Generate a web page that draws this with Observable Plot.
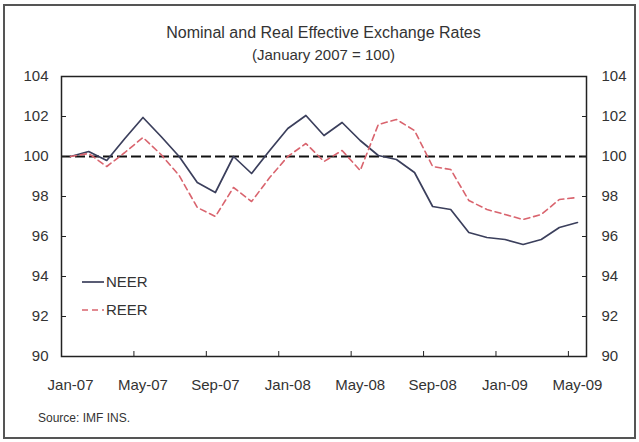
<!DOCTYPE html>
<html>
<head>
<meta charset="utf-8">
<script src="https://cdn.jsdelivr.net/npm/d3@7"></script>
<script src="https://cdn.jsdelivr.net/npm/@observablehq/plot@0.6"></script>
<style>
  body { margin: 0; background: #fff; font-family: "Liberation Sans", Arial, sans-serif; }
  #wrap { position: relative; width: 639px; height: 442px; overflow: hidden; background: #fff; }
  #border { position: absolute; left: 3px; top: 4px; width: 629px; height: 431px; border: 2px solid #555; pointer-events: none; }
  #head { position: relative; height: 64px; }
  #title { position: absolute; left: 61px; width: 525px; top: 23px; text-align: center; font-size: 16px; line-height: 20px; color: #333; }
  #subtitle { position: absolute; left: 61px; width: 525px; top: 45px; text-align: center; font-size: 15px; line-height: 20px; color: #333; }
  #chart svg { display: block; }
  #source { position: absolute; left: 38px; top: 411px; font-size: 12px; color: #333; }
  #legend { position: absolute; left: 80px; top: 270px; }
  #legend svg { display: block; overflow: visible; }
</style>
</head>
<body>
<div id="wrap">
  <div id="head">
    <div id="title">Nominal and Real Effective Exchange Rates</div>
    <div id="subtitle">(January 2007 = 100)</div>
  </div>
  <div id="chart"></div>
  <div id="legend"></div>
  <div id="source">Source: IMF INS.</div>
  <div id="border"></div>
</div>
<script>
// Monthly categories, Jan-07 .. May-09
const months = ["Jan-07","Feb-07","Mar-07","Apr-07","May-07","Jun-07","Jul-07","Aug-07","Sep-07","Oct-07","Nov-07","Dec-07",
                "Jan-08","Feb-08","Mar-08","Apr-08","May-08","Jun-08","Jul-08","Aug-08","Sep-08","Oct-08","Nov-08","Dec-08",
                "Jan-09","Feb-09","Mar-09","Apr-09","May-09"];
const neer = [100.0, 100.25, 99.8, 100.9, 101.95, 101.0, 100.0, 98.7, 98.2, 100.0, 99.15, 100.3,
              101.4, 102.05, 101.05, 101.7, 100.8, 100.05, 99.85, 99.2, 97.5, 97.35, 96.2, 95.95,
              95.85, 95.6, 95.85, 96.45, 96.7];
const reer = [100.0, 100.15, 99.5, 100.2, 100.95, 100.1, 99.05, 97.45, 97.0, 98.45, 97.75, 98.95,
              100.0, 100.65, 99.75, 100.3, 99.3, 101.6, 101.85, 101.3, 99.5, 99.35, 97.8, 97.35,
              97.1, 96.85, 97.1, 97.85, 97.95];
const xTickLabels = ["Jan-07","May-07","Sep-07","Jan-08","May-08","Sep-08","Jan-09","May-09"];
const yTicks = [90, 92, 94, 96, 98, 100, 102, 104];
const baseline = [100];
const seriesNames = ["NEER", "REER"];

const rows = months.map((m, i) => ({i, month: m, neer: neer[i], reer: reer[i]}));
const labelIdx = xTickLabels.map(l => months.indexOf(l));
const boundaryIdx = labelIdx.map(i => i - 0.5);

const NEER_COLOR = "#3b3f5c";
const REER_COLOR = "#d9646e";
const FONT = "Liberation Sans, Arial, sans-serif";

const chart = Plot.plot({
  width: 639,
  height: 336,
  marginTop: 12,
  marginBottom: 44,
  marginLeft: 61,
  marginRight: 53,
  style: {fontFamily: FONT, fontSize: "15px", color: "#333", background: "transparent"},
  x: {type: "linear", domain: [-0.5, months.length - 0.5]},
  y: {domain: [90, 104]},
  marks: [
    Plot.ruleY(baseline, {stroke: "#111", strokeWidth: 2, strokeDasharray: "10,4"}),
    Plot.line(rows, {x: "i", y: "neer", stroke: NEER_COLOR, strokeWidth: 1.7}),
    Plot.line(rows, {x: "i", y: "reer", stroke: REER_COLOR, strokeWidth: 1.6, strokeDasharray: "6,4"}),
    Plot.frame({stroke: "#222", strokeWidth: 1.5}),
    Plot.axisY({anchor: "left", ticks: yTicks, tickSize: -5, tickPadding: 18, tickFormat: d => String(d), label: null, stroke: "#222"}),
    Plot.axisY({anchor: "right", ticks: yTicks, tickSize: -5, tickPadding: 20, tickFormat: d => String(d), label: null, stroke: "#222"}),
    Plot.axisX({anchor: "bottom", ticks: boundaryIdx, tickSize: -5, tickFormat: () => "", label: null, stroke: "#222"}),
    Plot.axisX({anchor: "bottom", ticks: labelIdx, tickSize: 0, tickPadding: 23, tickFormat: i => months[i], label: null})
  ]
});
document.getElementById("chart").appendChild(chart);

// Legend (inside plot area, lower left)
const lg = d3.select("#legend").append("svg").attr("width", 90).attr("height", 50);
const styles = [{color: NEER_COLOR, dash: null, w: 1.7}, {color: REER_COLOR, dash: "6,4", w: 1.6}];
seriesNames.forEach((name, k) => {
  const yy = 12 + k * 28;
  lg.append("line").attr("x1", 2).attr("x2", 24).attr("y1", yy).attr("y2", yy)
    .attr("stroke", styles[k].color).attr("stroke-width", styles[k].w)
    .attr("stroke-dasharray", styles[k].dash);
  lg.append("text").attr("x", 26).attr("y", yy).attr("dy", "0.35em")
    .attr("font-family", FONT).attr("font-size", 15).attr("fill", "#333").text(name);
});
</script>
</body>
</html>
